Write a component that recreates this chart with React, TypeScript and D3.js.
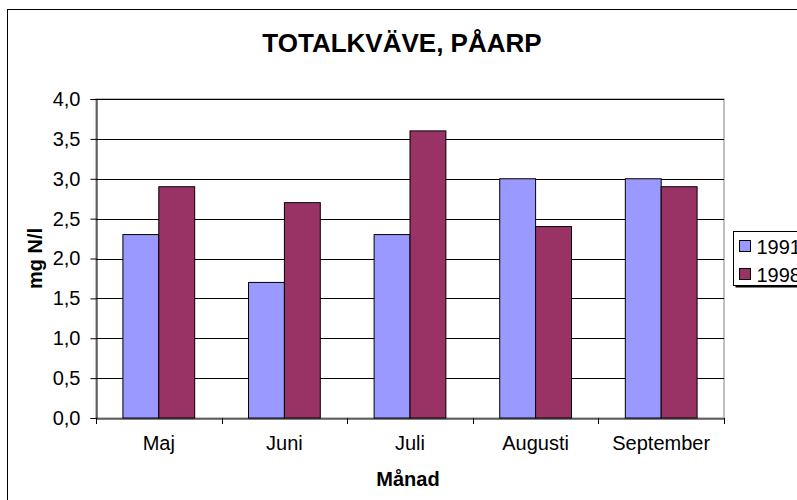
import React, { useEffect, useRef } from "react";
import * as d3 from "d3";

const months = ["Maj", "Juni", "Juli", "Augusti", "September"];
const series1991 = [2.3, 1.7, 2.3, 3.0, 3.0];
const series1998 = [2.9, 2.7, 3.6, 2.4, 2.9];
const seriesNames = ["1991", "1998"];
const yTicks = [0, 0.5, 1, 1.5, 2, 2.5, 3, 3.5, 4];

const colors = ["#9999FF", "#993366"];

const App: React.FC = () => {
	const svgRef = useRef<SVGSVGElement>(null);

	useEffect(() => {
		if (!svgRef.current) return;
		const svg = d3.select(svgRef.current);
		svg.selectAll("*").remove();

		const font = "Arial, 'Liberation Sans', sans-serif";
		const left = 96;
		const right = 724;
		const top = 99;
		const bottom = 418;

		// outer chart frame (cut off at right/bottom)
		svg
			.append("rect")
			.attr("x", 7.5)
			.attr("y", 9.5)
			.attr("width", 900)
			.attr("height", 600)
			.attr("fill", "#fff")
			.attr("stroke", "#000");

		const x0 = d3.scaleBand().domain(months).range([left, right]);
		const y = d3.scaleLinear().domain([0, 4]).range([bottom, top]);
		const x1 = d3
			.scaleBand()
			.domain(seriesNames)
			.range([0, x0.bandwidth()])
			.paddingOuter(0.75);

		// plot area border (grey)
		svg
			.append("rect")
			.attr("x", left)
			.attr("y", top)
			.attr("width", right - left)
			.attr("height", bottom - top)
			.attr("fill", "none")
			.attr("stroke", "#808080");

		// gridlines
		svg
			.append("g")
			.selectAll("line")
			.data(yTicks.slice(1))
			.join("line")
			.attr("x1", left)
			.attr("x2", right)
			.attr("y1", (d) => Math.round(y(d)) + 0.5)
			.attr("y2", (d) => Math.round(y(d)) + 0.5)
			.attr("stroke", "#000");

		// bars
		const groups = svg
			.append("g")
			.selectAll("g")
			.data(months)
			.join("g")
			.attr("transform", (d) => `translate(${x0(d)},0)`);

		groups
			.selectAll("rect")
			.data((d, i) => [series1991[i], series1998[i]].map((v, j) => ({ v, j })))
			.join("rect")
			.attr("x", (d) => x1(seriesNames[d.j])!)
			.attr("y", (d) => y(d.v))
			.attr("width", x1.bandwidth())
			.attr("height", (d) => bottom - y(d.v))
			.attr("fill", (d) => colors[d.j])
			.attr("stroke", "#000")
			.attr("stroke-width", 1);

		// y axis
		const yAxis = svg
			.append("g")
			.attr("transform", `translate(${left + 0.5},0)`)
			.call(
				d3
					.axisLeft(y)
					.tickValues(yTicks)
					.tickSize(6)
					.tickPadding(10)
					.tickFormat((d) => d3.format(".1f")(d as number).replace(".", ","))
			);
		yAxis.select(".domain").attr("stroke", "#000");
		yAxis
			.selectAll("text")
			.attr("font-family", font)
			.attr("font-size", 20)
			.attr("fill", "#000");

		// x axis
		const xAxis = svg
			.append("g")
			.attr("transform", `translate(0,${bottom + 0.5})`)
			.call(d3.axisBottom(x0).tickSizeOuter(0).tickSize(0).tickPadding(17));
		xAxis.select(".domain").attr("stroke", "#000");
		xAxis
			.selectAll("text")
			.attr("font-family", font)
			.attr("font-size", 20)
			.attr("fill", "#000");

		// category tick marks between groups
		svg
			.append("g")
			.selectAll("line")
			.data(months.map((m) => x0(m)!).concat([right]))
			.join("line")
			.attr("x1", (d) => Math.round(d) + 0.5)
			.attr("x2", (d) => Math.round(d) + 0.5)
			.attr("y1", bottom)
			.attr("y2", bottom + 6)
			.attr("stroke", "#000");

		// title
		svg
			.append("text")
			.attr("x", 402)
			.attr("y", 52)
			.attr("text-anchor", "middle")
			.attr("font-family", font)
			.attr("font-size", 26)
			.attr("font-weight", "bold")
			.text("TOTALKVÄVE, PÅARP");

		// axis titles
		svg
			.append("text")
			.attr("x", 408)
			.attr("y", 486)
			.attr("text-anchor", "middle")
			.attr("font-family", font)
			.attr("font-size", 20)
			.attr("font-weight", "bold")
			.text("Månad");

		svg
			.append("text")
			.attr("transform", `translate(42,${(top + bottom) / 2}) rotate(-90)`)
			.attr("text-anchor", "middle")
			.attr("font-family", font)
			.attr("font-size", 20)
			.attr("font-weight", "bold")
			.text("mg N/l");

		// legend
		const lg = svg.append("g").attr("transform", "translate(733.5,231.5)");
		lg.append("rect")
			.attr("x", 2)
			.attr("y", 2)
			.attr("width", 90)
			.attr("height", 54)
			.attr("fill", "#000");
		lg.append("rect")
			.attr("width", 90)
			.attr("height", 54)
			.attr("fill", "#fff")
			.attr("stroke", "#000");
		seriesNames.forEach((s, i) => {
			lg.append("rect")
				.attr("x", 6)
				.attr("y", 9 + i * 28)
				.attr("width", 11)
				.attr("height", 11)
				.attr("fill", colors[i])
				.attr("stroke", "#000");
			lg.append("text")
				.attr("x", 23)
				.attr("y", 22 + i * 28)
				.attr("font-family", font)
				.attr("font-size", 20)
				.text(s);
		});
	}, []);

	return (
		<svg
			ref={svgRef}
			width={797}
			height={500}
			style={{ position: "absolute", left: 0, top: 0, background: "#fff" }}
		/>
	);
};

export default App;
